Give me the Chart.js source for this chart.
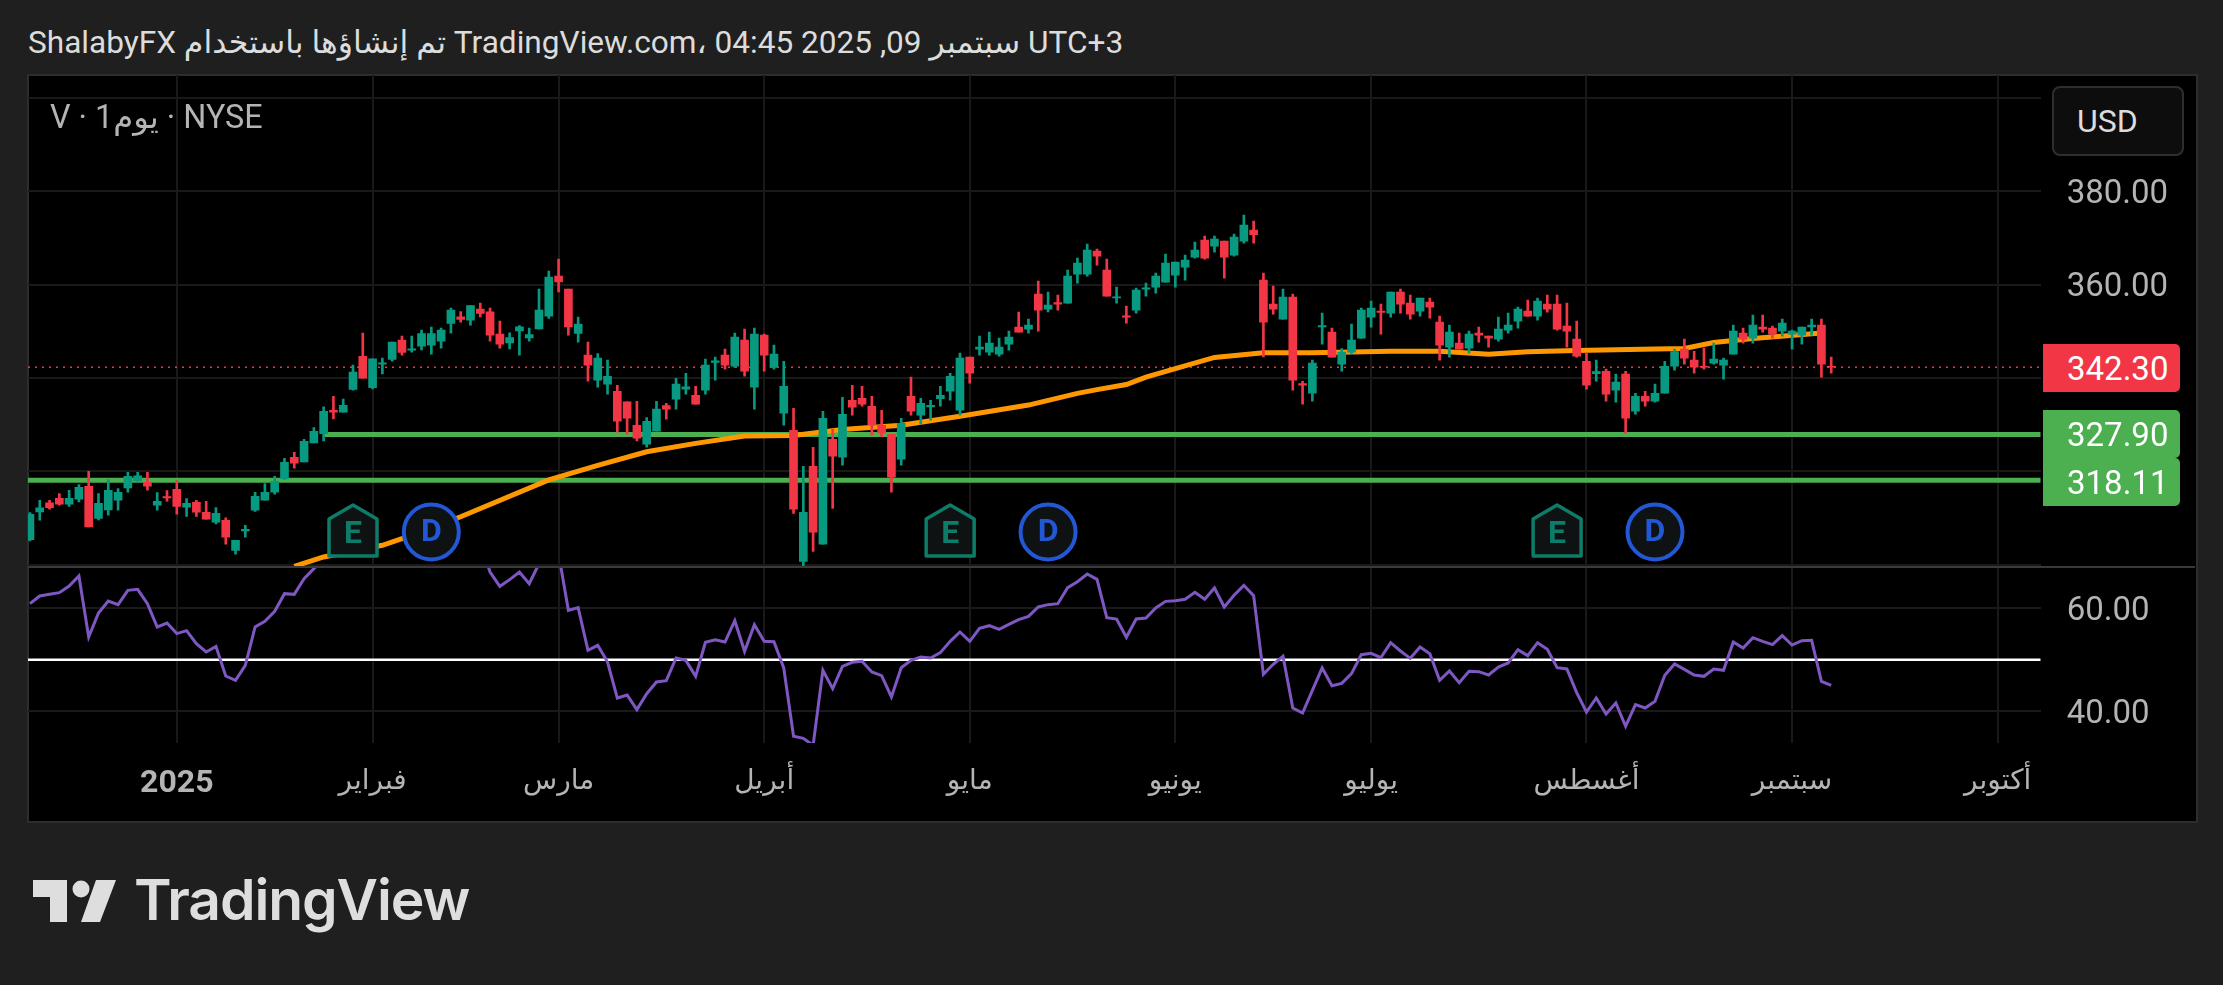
<!DOCTYPE html>
<html>
<head>
<meta charset="utf-8">
<script src="https://cdn.jsdelivr.net/npm/chart.js@4/dist/chart.umd.js"></script>
<style>
html, body { margin: 0; padding: 0; background: #1f1f1f; }
body { position: relative; width: 2223px; height: 985px; overflow: hidden; font-family: Roboto, "Noto Sans", "DejaVu Sans", sans-serif; }
#header { position: absolute; left: 28px; top: 22px; line-height: 42px; font-size: 31.6px; color: #dcdcdc; white-space: nowrap; direction: ltr; }
#panel { position: absolute; left: 27px; top: 74px; width: 2167px; height: 745px; background: #000; border: 2px solid #2d2d2d; box-sizing: content-box; }
canvas { position: absolute; left: 28px; }
#divider { position: absolute; left: 28px; top: 566px; width: 2167px; height: 2px; background: #3a3a3a; }
#symbol { position: absolute; left: 50px; top: 96px; line-height: 42px; font-size: 32.3px; color: #b4b4b4; white-space: nowrap; direction: ltr; }
#usd { position: absolute; left: 2052px; top: 86px; width: 132px; height: 70px; box-sizing: border-box; background: #0d0d0d; border: 2px solid #2e2e2e; border-radius: 8px; color: #dcdcdc; font-size: 32px; line-height: 66px; padding-left: 23px; }
.flag { position: absolute; left: 2043px; width: 137px; height: 48px; line-height: 50px; color: #fff; font-size: 33px; padding-left: 24px; box-sizing: border-box; border-radius: 0 5px 5px 0; }
#logo { position: absolute; left: 30px; top: 870px; }
#logoText { position: absolute; left: 134px; top: 866px; font-family: Inter, Roboto, sans-serif; font-weight: 600; font-size: 57px; line-height: 68px; color: #dedede; letter-spacing: -1.1px; }
</style>
</head>
<body>
<div id="header">ShalabyFX تم إنشاؤها باستخدام TradingView.com، 04:45 2025 ,09 سبتمبر UTC+3</div>
<div id="panel"></div>
<canvas id="price-chart" width="2167" height="492" style="top:75px"></canvas>
<canvas id="rsi-chart" width="2167" height="252" style="top:567px"></canvas>
<div id="divider"></div>
<div id="symbol">V · 1يوم · NYSE</div>
<div id="usd">USD</div>
<div class="flag" style="top:344px;background:#f23645">342.30</div>
<div class="flag" style="top:410px;background:#4caf50">327.90</div>
<div class="flag" style="top:458px;background:#4caf50">318.11</div>
<svg id="logo" width="100" height="60" viewBox="0 0 100 60">
  <path d="M3 10H37V52H20V27H3Z M66 10H86L70 52H51Z" fill="#dedede"/>
  <circle cx="51" cy="19" r="8.5" fill="#dedede"/>
</svg>
<div id="logoText">TradingView</div>

<script>
const opens = [
    305.41,311.33,313.26,314.26,312.97,314.04,316.83,309.97,311.76,313.83,
    316.47,317.97,317.68,312.76,314.61,316.18,312.33,313.40,311.26,309.12,
    309.55,303.12,307.26,311.69,313.83,315.54,318.47,323.04,322.04,326.11,
    328.10,333.10,332.67,337.53,344.66,337.95,342.95,343.95,348.09,345.95,
    346.81,347.02,347.88,351.66,353.09,352.37,354.73,354.16,349.38,347.52,
    350.09,348.59,350.52,353.23,361.80,359.01,349.52,344.88,339.52,338.67,
    337.17,334.89,329.89,325.82,328.60,334.10,335.46,337.60,336.31,337.38,
    343.31,344.88,342.52,348.09,338.03,349.16,342.24,332.46,328.82,300.77,
    321.11,304.41,326.89,323.04,335.24,335.67,333.96,329.89,327.96,322.61,
    336.10,332.03,333.81,335.60,337.17,333.10,344.45,346.16,345.52,345.09,
    347.23,350.87,350.45,357.94,354.73,356.16,356.01,362.22,362.22,367.15,
    363.08,357.16,353.30,354.51,359.01,359.44,360.51,362.01,363.72,365.86,
    369.50,368.22,369.29,366.29,369.29,371.65,360.94,355.80,352.59,357.30,
    338.81,336.74,350.95,349.80,342.95,345.52,348.52,353.02,354.30,353.87,
    358.37,356.01,354.30,356.23,351.95,346.59,347.45,346.38,349.59,348.95,
    348.30,350.23,352.16,354.30,353.23,355.80,355.80,351.09,348.30,343.59,
    340.95,341.45,337.38,340.81,332.89,336.10,335.03,336.74,342.52,346.16,
    343.81,342.52,343.17,342.74,345.09,349.59,348.52,350.87,350.66,350.02,
    349.37,349.16,350.95,351.30,342.50
];
const highs = [
    311.19,313.83,313.83,315.26,315.97,317.18,320.04,315.26,318.25,316.33,
    319.83,319.83,319.83,315.47,315.90,318.04,314.19,313.83,313.62,312.26,
    310.05,305.26,308.48,315.54,317.40,318.97,322.82,324.11,326.89,329.39,
    333.81,336.10,335.46,342.74,349.59,344.09,344.24,347.66,348.95,348.95,
    350.23,350.87,350.66,354.94,354.23,355.51,356.01,354.94,352.16,349.66,
    351.23,350.66,359.01,362.87,365.44,359.01,353.02,347.66,345.24,343.81,
    338.45,334.89,335.03,331.53,335.03,334.60,339.95,341.02,338.24,344.02,
    344.45,346.16,349.59,350.45,350.66,349.38,347.02,343.59,333.53,321.11,
    325.18,332.89,329.03,335.88,338.45,338.24,336.10,333.10,327.96,331.39,
    340.17,335.67,335.24,338.24,341.02,345.31,344.45,348.95,349.80,348.52,
    350.02,354.09,352.59,360.72,358.37,357.73,363.08,365.65,368.65,367.58,
    365.44,359.44,355.37,359.23,360.30,362.44,366.51,364.79,366.29,369.08,
    370.36,370.36,369.29,370.79,374.86,373.57,362.44,359.65,359.01,357.94,
    339.31,343.81,353.87,350.66,346.31,351.52,354.94,356.44,355.80,358.37,
    359.01,357.73,357.08,357.08,353.23,351.30,349.59,350.02,350.87,348.95,
    353.02,353.87,355.16,356.66,357.08,357.73,357.73,356.01,352.16,345.31,
    343.81,341.88,340.81,341.45,336.74,337.17,338.67,343.59,346.16,348.30,
    345.73,346.38,347.45,344.24,351.30,350.66,353.44,353.44,351.09,352.59,
    350.23,350.87,352.59,352.59,344.45
];
const lows = [
    305.12,309.55,311.90,312.76,312.54,313.47,308.12,309.62,310.62,311.69,
    315.54,317.90,315.97,311.69,313.62,310.83,310.40,310.40,309.76,308.76,
    304.41,302.27,305.91,311.47,313.83,315.11,318.25,320.68,322.04,326.11,
    326.53,331.24,332.67,337.38,339.95,337.67,340.88,343.59,344.88,345.52,
    346.02,345.09,346.38,349.59,351.95,351.30,353.09,347.88,346.38,346.24,
    344.88,347.88,350.52,352.73,358.44,349.16,347.66,339.31,338.03,336.53,
    328.39,327.96,326.53,325.18,328.60,331.17,333.32,336.53,334.39,336.53,
    339.52,341.88,342.24,340.38,333.32,341.45,341.88,329.89,311.04,299.69,
    302.91,304.41,312.11,321.32,332.03,333.96,327.75,327.39,315.54,321.32,
    332.03,330.10,330.96,333.96,335.24,332.03,338.88,344.88,344.88,344.66,
    345.95,349.80,349.59,350.02,354.16,354.51,356.01,360.30,361.80,364.15,
    357.51,356.01,351.73,353.87,357.51,358.16,360.51,359.44,360.94,365.65,
    365.44,366.93,361.37,366.08,368.86,368.86,344.52,353.66,352.59,337.38,
    334.39,335.03,347.23,344.45,341.45,345.09,348.52,350.87,349.38,353.02,
    353.87,352.59,353.23,352.80,343.81,344.45,346.16,345.31,347.66,346.59,
    347.88,349.59,350.66,353.23,352.37,354.09,350.23,346.59,344.45,337.60,
    339.31,335.03,334.81,328.18,332.24,333.96,334.81,336.74,341.67,342.95,
    341.02,341.88,342.95,339.74,345.09,347.45,347.45,349.80,348.52,348.95,
    346.16,347.23,349.16,340.17,341.02
];
const closes = [
    310.83,312.19,312.26,312.97,314.26,316.61,308.12,313.19,315.97,315.54,
    318.97,319.04,316.83,313.62,314.33,312.54,313.19,311.26,309.76,311.05,
    305.91,305.26,307.62,314.69,315.54,317.90,321.97,321.75,326.46,328.60,
    332.89,332.67,334.17,341.24,339.95,344.09,343.24,347.66,345.45,346.24,
    349.52,349.52,350.23,354.52,352.52,355.51,353.80,349.16,347.23,348.66,
    350.95,349.30,354.52,361.58,360.58,350.95,351.52,342.74,344.24,340.38,
    330.75,331.39,327.11,330.75,333.32,333.32,338.67,338.10,334.39,342.74,
    343.66,342.74,348.73,341.45,349.38,344.88,345.09,338.24,311.90,311.26,
    306.98,331.39,323.25,332.24,333.74,334.39,329.89,328.25,318.75,330.32,
    332.89,334.60,334.17,336.31,340.38,344.24,341.02,346.59,347.45,346.59,
    348.73,349.80,351.30,354.51,355.59,355.80,361.80,364.58,367.36,366.08,
    357.51,357.37,353.02,358.80,359.30,361.80,364.58,364.79,365.22,367.36,
    365.65,369.72,365.86,370.15,372.72,370.65,351.95,354.73,357.30,339.52,
    338.45,343.17,351.23,344.45,345.52,348.09,354.51,354.94,354.01,358.37,
    355.80,353.66,357.08,355.16,347.02,349.80,346.16,349.38,349.16,348.52,
    350.45,351.30,354.73,353.23,356.44,354.73,350.45,350.02,344.66,338.45,
    341.38,336.53,339.10,331.39,336.10,335.03,336.74,342.52,345.66,344.24,
    342.31,342.31,344.02,343.81,350.02,348.30,351.30,350.45,349.37,351.73,
    350.02,350.87,351.30,342.95,342.30
];
const rsiValues = [
    60.84,62.33,62.65,62.97,64.26,66.20,54.39,59.04,61.36,60.65,
    63.42,63.62,60.84,56.33,57.10,55.04,55.62,53.10,51.49,52.58,
    46.84,46.00,48.91,56.33,57.42,59.36,62.78,62.65,65.68,67.62,
    69.50,69.30,69.80,72.00,71.00,71.50,71.60,73.50,72.50,72.60,
    73.50,73.50,74.00,75.50,73.50,74.00,72.50,66.97,64.20,65.49,
    66.97,64.71,68.58,71.50,70.50,59.55,60.07,51.81,52.78,49.55,
    42.58,43.16,40.33,43.42,45.68,45.94,50.33,49.87,46.78,53.36,
    53.87,53.42,57.55,51.62,56.78,53.55,53.49,48.39,35.16,34.78,
    33.42,47.94,44.39,48.71,49.49,49.68,47.62,46.91,42.78,48.45,
    49.87,50.52,50.33,51.36,53.55,55.36,53.55,56.07,56.58,55.87,
    56.84,57.75,58.39,60.20,60.65,60.84,63.94,65.10,66.58,65.55,
    58.13,57.87,54.33,57.87,58.07,60.00,61.29,61.42,61.68,63.04,
    61.68,63.87,60.20,62.46,64.39,62.39,47.16,49.10,50.65,40.65,
    39.68,44.07,48.39,44.97,45.42,47.29,50.97,51.23,50.39,53.29,
    51.68,50.26,52.45,51.16,46.00,47.81,45.55,47.74,47.68,47.04,
    48.58,49.36,51.94,50.78,53.29,52.00,48.45,48.20,43.62,39.87,
    42.58,39.49,41.62,37.10,41.29,40.65,41.94,46.97,49.16,48.13,
    47.04,46.78,48.20,47.94,53.42,52.26,54.26,53.55,52.91,54.65,
    52.84,53.68,53.75,45.81,45.03
];

// moving average, read at its visible bends
const maDays = [27, 30, 36, 38, 44, 53, 58, 63, 68, 73, 78, 83, 89, 95, 102, 107, 109, 112, 114, 117, 121, 126, 131, 139, 144, 149, 153, 158, 166, 169, 172, 176, 183];
const maValues = [299.7, 301.7, 304.2, 305.6, 310.3, 318.2, 321.3, 324.2, 326.0, 327.6, 327.7, 329.0, 329.9, 331.8, 334.2, 336.7, 337.5, 338.6, 340.2, 342.0, 344.4, 345.4, 345.4, 345.7, 345.7, 345.1, 345.6, 345.9, 346.2, 346.3, 347.6, 348.45, 349.65];

const lastPrice = 342.30;
const levelPrices = [327.90, 318.11];
const levelStartDays = [30, -0.2];
const rsiMiddle = 50;

const earningsDays = [33, 94, 156];
const dividendDays = [41, 104, 166];

const monthDays = [15, 35, 54, 75, 96, 117, 137, 159, 180, 201];
const monthLabels = ['2025', 'فبراير', 'مارس', 'أبريل', 'مايو', 'يونيو', 'يوليو', 'أغسطس', 'سبتمبر', 'أكتوبر'];

const priceGrid = [400, 380, 360, 340, 320, 300];
const priceLabels = [380, 360];
const rsiGrid = [60, 40];

const xMin = -0.2;
const xMax = 205.4;

const UP = '#089981';
const DOWN = '#f23645';
const GRID = '#191919';
const TICK = '#b4b4b4';
const FONT = 'Roboto, "Noto Sans", "DejaVu Sans", sans-serif';

const candleColor = closes.map((c, i) => (c >= opens[i] ? UP : DOWN));

function xScale(showLabels) {
    return {
        type: 'linear',
        offset: false,
        min: xMin,
        max: xMax,
        border: { display: false },
        grid: { color: GRID, lineWidth: 2, drawTicks: false, offset: false },
        afterBuildTicks: function (scale) {
            scale.ticks = monthDays.map(v => ({ value: v }));
        },
        afterFit: function (scale) {
            scale.paddingLeft = 0;
            scale.paddingRight = 0;
            scale.height = showLabels ? 76 : 0;
        },
        ticks: {
            display: showLabels,
            autoSkip: false,
            maxRotation: 0,
            padding: 22,
            color: TICK,
            font: function (ctx) {
                const isYear = ctx.tick && ctx.tick.value === monthDays[0];
                return { family: FONT, size: isYear ? 32 : 28, weight: isYear ? 'bold' : 'normal' };
            },
            callback: function (value) {
                return monthLabels[monthDays.indexOf(value)];
            }
        }
    };
}

function yScale(min, max, grid, labels) {
    return {
        position: 'right',
        min: min,
        max: max,
        border: { display: false },
        grid: { color: GRID, lineWidth: 2, drawTicks: false },
        afterBuildTicks: function (scale) {
            scale.ticks = grid.map(v => ({ value: v }));
        },
        afterFit: function (scale) {
            scale.width = 154.3;
            scale.paddingTop = 0;
            scale.paddingBottom = 0;
        },
        ticks: {
            padding: 26,
            labelOffset: 3.5,
            color: TICK,
            font: { family: FONT, size: 33 },
            callback: function (value) {
                return labels.includes(value) ? value.toFixed(2) : '';
            }
        }
    };
}

const badgePlugin = {
    id: 'badges',
    afterDatasetsDraw: function (chart) {
        const ctx = chart.ctx;
        const cy = chart.chartArea.bottom - 35;
        ctx.save();
        ctx.textAlign = 'center';
        ctx.textBaseline = 'middle';
        earningsDays.forEach(day => {
            const cx = chart.scales.x.getPixelForValue(day);
            ctx.beginPath();
            ctx.moveTo(cx, cy - 27);
            ctx.lineTo(cx + 24, cy - 13);
            ctx.lineTo(cx + 24, cy + 24);
            ctx.lineTo(cx - 24, cy + 24);
            ctx.lineTo(cx - 24, cy - 13);
            ctx.closePath();
            ctx.lineJoin = 'round';
            ctx.fillStyle = '#0e1212';
            ctx.fill();
            ctx.lineWidth = 3.5;
            ctx.strokeStyle = '#0d7c69';
            ctx.stroke();
            ctx.fillStyle = '#0d7c69';
            ctx.font = 'bold 32px ' + FONT;
            ctx.fillText('E', cx, cy + 3);
        });
        dividendDays.forEach(day => {
            const cx = chart.scales.x.getPixelForValue(day);
            ctx.beginPath();
            ctx.arc(cx, cy, 27.5, 0, Math.PI * 2);
            ctx.fillStyle = '#0e1212';
            ctx.fill();
            ctx.lineWidth = 4;
            ctx.strokeStyle = '#2257d6';
            ctx.stroke();
            ctx.fillStyle = '#2257d6';
            ctx.font = 'bold 32px ' + FONT;
            ctx.fillText('D', cx, cy + 1);
        });
        ctx.restore();
    }
};

const baseOptions = {
    responsive: false,
    animation: false,
    devicePixelRatio: 1,
    layout: { padding: 0 },
    plugins: { legend: { display: false }, tooltip: { enabled: false } }
};

new Chart(document.getElementById('price-chart'), {
    data: {
        datasets: [
            {
                type: 'bar',
                data: highs.map((h, i) => ({ x: i, y: [lows[i], h] })),
                backgroundColor: candleColor,
                barThickness: 2,
                grouped: false,
                order: 2
            },
            {
                type: 'bar',
                data: opens.map((o, i) => ({ x: i, y: [o, closes[i]] })),
                backgroundColor: candleColor,
                barThickness: 8,
                grouped: false,
                order: 1
            },
            {
                type: 'line',
                data: maDays.map((d, i) => ({ x: d, y: maValues[i] })),
                borderColor: '#ff9800',
                borderWidth: 5,
                pointRadius: 0,
                order: 3
            },
            {
                type: 'line',
                data: [{ x: xMin, y: lastPrice }, { x: xMax, y: lastPrice }],
                borderColor: DOWN,
                borderWidth: 1.5,
                borderDash: [2, 5],
                pointRadius: 0,
                order: 4
            },
            {
                type: 'line',
                data: [{ x: levelStartDays[0], y: levelPrices[0] }, { x: xMax, y: levelPrices[0] }],
                borderColor: '#4caf50',
                borderWidth: 5,
                pointRadius: 0,
                order: 5
            },
            {
                type: 'line',
                data: [{ x: levelStartDays[1], y: levelPrices[1] }, { x: xMax, y: levelPrices[1] }],
                borderColor: '#4caf50',
                borderWidth: 5,
                pointRadius: 0,
                order: 5
            }
        ]
    },
    options: {
        ...baseOptions,
        scales: {
            x: xScale(false),
            y: yScale(299.55, 404.84, priceGrid, priceLabels)
        }
    },
    plugins: [badgePlugin]
});

new Chart(document.getElementById('rsi-chart'), {
    type: 'line',
    data: {
        datasets: [
            {
                data: rsiValues.map((v, i) => ({ x: i, y: v })),
                borderColor: '#7e57c2',
                borderWidth: 3,
                pointRadius: 0,
                order: 1
            },
            {
                data: [{ x: xMin, y: rsiMiddle }, { x: xMax, y: rsiMiddle }],
                borderColor: '#ffffff',
                borderWidth: 2.5,
                pointRadius: 0,
                order: 2
            }
        ]
    },
    options: {
        ...baseOptions,
        scales: {
            x: xScale(true),
            y: yScale(33.87, 67.94, rsiGrid, rsiGrid)
        }
    }
});
</script>
</body>
</html>
